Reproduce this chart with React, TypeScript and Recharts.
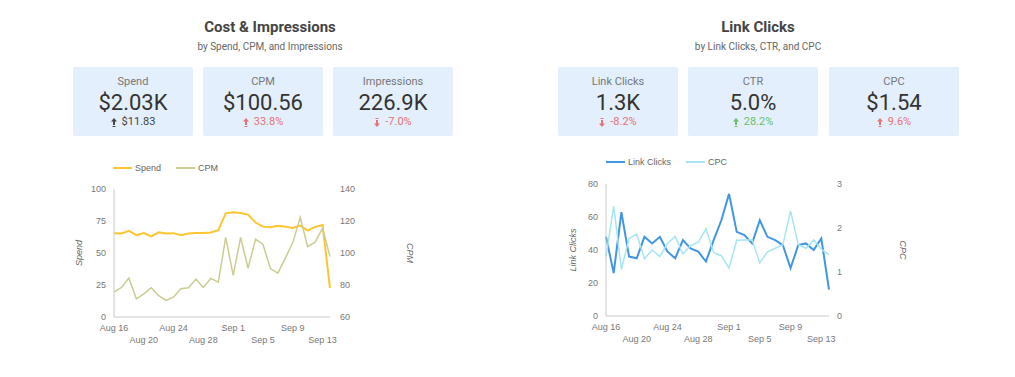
import { Legend, Line, LineChart, XAxis, YAxis } from "recharts";

const DAYS = [
  "Aug 16", "Aug 17", "Aug 18", "Aug 19", "Aug 20", "Aug 21", "Aug 22", "Aug 23",
  "Aug 24", "Aug 25", "Aug 26", "Aug 27", "Aug 28", "Aug 29", "Aug 30", "Aug 31",
  "Sep 1", "Sep 2", "Sep 3", "Sep 4", "Sep 5", "Sep 6", "Sep 7", "Sep 8",
  "Sep 9", "Sep 10", "Sep 11", "Sep 12", "Sep 13", "Sep 14",
];

const SPEND = [
  65.5, 65.2, 67.3, 63.9, 65.5, 62.9, 66.2, 65.2, 65.5, 63.9, 65.2, 65.7, 65.7, 66, 67.8,
  81, 81.8, 81.3, 80, 73.8, 70.6, 70.1, 71.2, 70.6, 69.6, 71.4, 67.5, 70.4, 71.9, 22.6,
];
const CPM = [
  75.6, 78.5, 84.3, 71.4, 74.5, 78.3, 73.3, 70.4, 72.5, 77.7, 78.3, 83.7, 78.5, 84.1, 81.8,
  109.7, 86, 109.7, 90.5, 108.6, 105.5, 90.3, 87.4, 96.8, 106.5, 122.3, 104, 106.8, 115.5, 97.8,
];
const LINK_CLICKS = [
  48, 26, 63, 36, 35, 48, 44, 48, 39, 35, 46, 41, 39, 33, 46,
  58, 74, 51, 49, 44, 58, 48, 46, 43, 29, 43, 44, 40, 47, 16,
];
const CPC = [
  1.35, 2.5, 1.06, 1.76, 1.86, 1.3, 1.5, 1.35, 1.65, 1.81, 1.41, 1.6, 1.68, 1.98, 1.44,
  1.37, 1.09, 1.72, 1.73, 1.73, 1.21, 1.46, 1.54, 1.62, 2.39, 1.62, 1.54, 1.73, 1.52, 1.39,
];

const SPEND_TICKS = [0, 25, 50, 75, 100];
const CPM_TICKS = [60, 80, 100, 120, 140];
const CLICK_TICKS = [0, 20, 40, 60, 80];
const CPC_TICKS = [0, 1, 2, 3];

const COST_KPIS = [
  { label: "Spend", value: "$2.03K", delta: "$11.83", up: true, tone: "neutral" },
  { label: "CPM", value: "$100.56", delta: "33.8%", up: true, tone: "bad" },
  { label: "Impressions", value: "226.9K", delta: "-7.0%", up: false, tone: "bad" },
];
const CLICK_KPIS = [
  { label: "Link Clicks", value: "1.3K", delta: "-8.2%", up: false, tone: "bad" },
  { label: "CTR", value: "5.0%", delta: "28.2%", up: true, tone: "good" },
  { label: "CPC", value: "$1.54", delta: "9.6%", up: true, tone: "bad" },
];

const costData = DAYS.map((day, i) => ({ day, spend: SPEND[i], cpm: CPM[i] }));
const clickData = DAYS.map((day, i) => ({ day, clicks: LINK_CLICKS[i], cpc: CPC[i] }));

const TONE: Record<string, string> = { neutral: "#444", bad: "#e57373", good: "#6abf69" };
const CHART_FONT = "'Liberation Sans', Arial, sans-serif";
const AXIS_TICK = { fontSize: 9, fill: "#777" };
const AXIS_LINE = { stroke: "#cacaca" };

function DateTick({ x, y, payload, index }: any) {
  return (
    <text x={x} y={y} dy={index % 2 ? 26 : 14} textAnchor="middle" fontSize={9} fill="#777">
      {payload.value}
    </text>
  );
}

// legend keeps the series order given here, not recharts' sorted order
function LineLegend({ payload, order }: any) {
  const items = [...(payload || [])].sort((a: any, b: any) => order.indexOf(a.value) - order.indexOf(b.value));
  return (
    <div style={{ display: "flex", gap: 15, fontSize: 9, color: "#666", fontFamily: CHART_FONT }}>
      {items.map((p: any) => (
        <span key={p.value} style={{ display: "flex", alignItems: "center", gap: 3 }}>
          <svg width={19} height={4}>
            <line x1={0} y1={2} x2={19} y2={2} stroke={p.color} strokeWidth={2} />
          </svg>
          {p.value}
        </span>
      ))}
    </div>
  );
}

function Arrow({ up, color }: { up: boolean; color: string }) {
  return (
    <svg width={6} height={9} viewBox="0 0 6 9" style={{ marginRight: 5, transform: up ? "none" : "rotate(180deg)" }}>
      <polygon points="3,0 6,3.5 4,3.5 4,7 2,7 2,3.5 0,3.5" fill={color} />
      <rect x={1.5} y={8} width={3} height={1} fill={color} />
    </svg>
  );
}

function Kpi({ k, left, width }: any) {
  const color = TONE[k.tone];
  return (
    <div style={{ position: "absolute", left, top: 67, width, height: 69, background: "#e3effc", borderRadius: 2 }}>
      <div style={{ position: "absolute", top: 8, width: "100%", textAlign: "center", fontSize: 11, lineHeight: "14px", color: "#777" }}>
        {k.label}
      </div>
      <div style={{ position: "absolute", top: 23, width: "100%", textAlign: "center", fontSize: 22, lineHeight: "26px", color: "#333" }}>
        {k.value}
      </div>
      <div style={{ position: "absolute", top: 48, width: "100%", display: "flex", justifyContent: "center", alignItems: "center", fontSize: 11, lineHeight: "14px", color }}>
        <Arrow up={k.up} color={color} />
        {k.delta}
      </div>
    </div>
  );
}

function Header({ title, sub, center }: any) {
  return (
    <>
      <div style={{ position: "absolute", left: center - 150, width: 300, top: 17, textAlign: "center", fontSize: 15, fontWeight: 700, lineHeight: "20px", color: "#444" }}>
        {title}
      </div>
      <div style={{ position: "absolute", left: center - 150, width: 300, top: 41, textAlign: "center", fontSize: 10, lineHeight: "12px", color: "#666" }}>
        {sub}
      </div>
    </>
  );
}

function AxisTitle({ text, x, y, angle }: any) {
  return (
    <div
      style={{
        position: "absolute", left: x, top: y, transform: `translate(-50%, -50%) rotate(${angle}deg)`,
        fontSize: 9, fontStyle: "italic", color: "#666", fontFamily: CHART_FONT, whiteSpace: "nowrap",
      }}
    >
      {text}
    </div>
  );
}

export default function App() {
  return (
    <div style={{ position: "absolute", left: 0, top: 0, width: 1015, height: 377, background: "#fff", fontFamily: "Roboto, sans-serif", overflow: "hidden" }}>
      <Header title="Cost & Impressions" sub="by Spend, CPM, and Impressions" center={270} />
      <Kpi k={COST_KPIS[0]} left={73} width={120} />
      <Kpi k={COST_KPIS[1]} left={203} width={120} />
      <Kpi k={COST_KPIS[2]} left={333} width={120} />

      <Header title="Link Clicks" sub="by Link Clicks, CTR, and CPC" center={758} />
      <Kpi k={CLICK_KPIS[0]} left={558} width={120} />
      <Kpi k={CLICK_KPIS[1]} left={688} width={130} />
      <Kpi k={CLICK_KPIS[2]} left={829} width={130} />

      <div style={{ position: "absolute", left: 60, top: 150 }}>
        <LineChart width={310} height={200} data={costData} margin={{ top: 39, right: 0, bottom: 3, left: 0 }} style={{ fontFamily: CHART_FONT }}>
          <XAxis dataKey="day" interval={3} tickLine={false} tickSize={0} tickMargin={0} axisLine={AXIS_LINE} tick={<DateTick />} height={30} />
          <YAxis yAxisId="spend" domain={[0, 100]} ticks={SPEND_TICKS} width={54} tickLine={false} axisLine={AXIS_LINE} tick={AXIS_TICK} />
          <YAxis yAxisId="cpm" orientation="right" domain={[60, 140]} ticks={CPM_TICKS} width={40} tickLine={false} axisLine={false} tick={AXIS_TICK} tickMargin={4} />
          <Legend verticalAlign="middle" align="center" wrapperStyle={{ top: 13, left: 53, width: "auto" }} content={<LineLegend order={["Spend", "CPM"]} />} />
          <Line yAxisId="spend" name="Spend" dataKey="spend" stroke="#fdc52f" strokeWidth={2} dot={false} activeDot={false} isAnimationActive={false} />
          <Line yAxisId="cpm" name="CPM" dataKey="cpm" stroke="#cbcc92" strokeWidth={1.5} dot={false} activeDot={false} isAnimationActive={false} />
        </LineChart>
      </div>
      <AxisTitle text="Spend" x={79} y={253} angle={-90} />
      <AxisTitle text="CPM" x={410} y={253} angle={90} />

      <div style={{ position: "absolute", left: 560, top: 150 }}>
        <LineChart width={309} height={200} data={clickData} margin={{ top: 34, right: 0, bottom: 4, left: 0 }} style={{ fontFamily: CHART_FONT }}>
          <XAxis dataKey="day" interval={3} tickLine={false} tickSize={0} tickMargin={0} axisLine={AXIS_LINE} tick={<DateTick />} height={30} />
          <YAxis yAxisId="clicks" domain={[0, 80]} ticks={CLICK_TICKS} width={46} tickLine={false} axisLine={AXIS_LINE} tick={AXIS_TICK} />
          <YAxis yAxisId="cpc" orientation="right" domain={[0, 3]} ticks={CPC_TICKS} width={40} tickLine={false} axisLine={false} tick={AXIS_TICK} />
          <Legend verticalAlign="middle" align="center" wrapperStyle={{ top: 7, left: 46, width: "auto" }} content={<LineLegend order={["Link Clicks", "CPC"]} />} />
          <Line yAxisId="clicks" name="Link Clicks" dataKey="clicks" stroke="#4196e4" strokeWidth={2} dot={false} activeDot={false} isAnimationActive={false} />
          <Line yAxisId="cpc" name="CPC" dataKey="cpc" stroke="#a6e5f2" strokeWidth={1.5} dot={false} activeDot={false} isAnimationActive={false} />
        </LineChart>
      </div>
      <AxisTitle text="Link Clicks" x={573} y={250} angle={-90} />
      <AxisTitle text="CPC" x={903} y={250} angle={90} />
    </div>
  );
}
